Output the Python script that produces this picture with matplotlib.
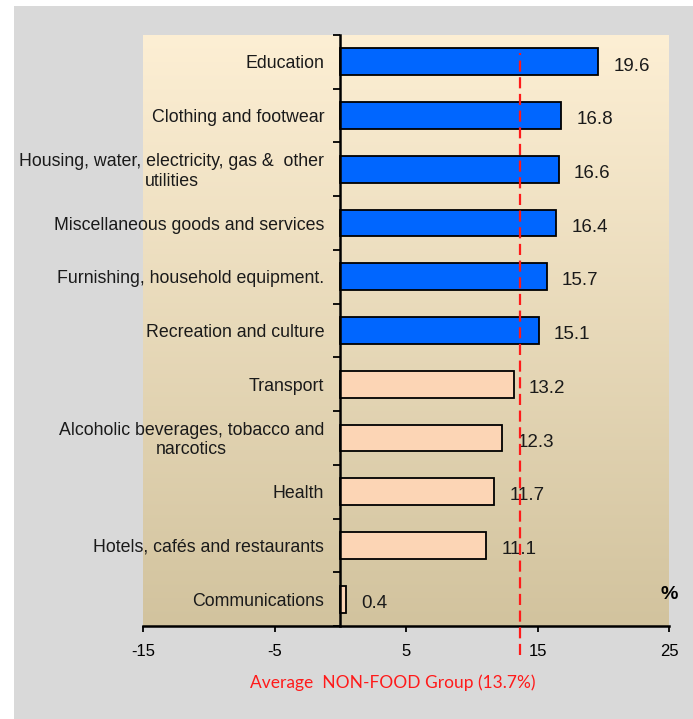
import numpy as np
import matplotlib
matplotlib.use("Agg")
import matplotlib.pyplot as plt
from matplotlib.patches import Rectangle

categories = [
    "Education",
    "Clothing and footwear",
    "Housing, water, electricity, gas &  other\nutilities",
    "Miscellaneous goods and services",
    "Furnishing, household equipment.",
    "Recreation and culture",
    "Transport",
    "Alcoholic beverages, tobacco and\nnarcotics",
    "Health",
    "Hotels, cafés and restaurants",
    "Communications",
]
values = [19.6, 16.8, 16.6, 16.4, 15.7, 15.1, 13.2, 12.3, 11.7, 11.1, 0.4]
average = 13.7
x_ticks = [-15, -5, 5, 15, 25]

plt.rcParams['font.family'] = ['Liberation Sans', 'DejaVu Sans']

W, H = 693, 719
fig = plt.figure(figsize=(W / 100, H / 100), dpi=100, facecolor='white')
fig.patches.append(Rectangle((14 / W, 0), 1, 1 - 6 / H, transform=fig.transFigure,
                             facecolor='#d9d9d9', edgecolor='none', zorder=-10))

ax = fig.add_axes([143 / W, 1 - 626 / H, (669 - 143) / W, (626 - 35) / H])
ax.set_facecolor('none')

# background gradient, cream at top to tan at bottom
top = np.array([253, 239, 212]) / 255
bot = np.array([210, 195, 158]) / 255
t = np.linspace(0, 1, 256)[:, None]
grad = (top * (1 - t) + bot * t)[:, None, :]
ax.imshow(grad, extent=[0, 1, 0, 1], transform=ax.transAxes, aspect='auto', zorder=0)

y = np.arange(len(categories))
colors = ['#0066ff' if v > average else '#fcd5b5' for v in values]
ax.barh(y, values, height=0.5, color=colors, edgecolor='black', linewidth=1.3, zorder=2)

for yi, v, lab in zip(y, values, categories):
    ax.annotate(f"{v}", xy=(v, yi), xytext=(11, -3), textcoords='offset points',
                ha='left', va='center', fontsize=13.5, color='#1a1a1a', zorder=3)
    ax.annotate(lab, xy=(0, yi), xytext=(-11.5, -1.5), textcoords='offset points',
                ha='right', va='center', multialignment='center', fontsize=12.8,
                linespacing=1.2, color='#1a1a1a', zorder=3)

ax.axvline(average, ymin=-0.049, ymax=0.97, color='#ff1a1a', linestyle=(0, (5, 2.5)),
           linewidth=1.6, clip_on=False, zorder=4)

ax.set_xlim(-15, 25)
ax.set_ylim(len(categories) - 0.5, -0.5)
ax.set_xticks(x_ticks)
ax.set_xticklabels([str(v) for v in x_ticks], fontsize=12)
ax.set_yticks(np.arange(-0.5, len(categories)))
ax.set_yticklabels([])

ax.spines['top'].set_visible(False)
ax.spines['right'].set_visible(False)
ax.spines['left'].set_position(('data', 0))
ax.spines['left'].set_linewidth(1.8)
ax.spines['bottom'].set_linewidth(1.8)
ax.tick_params(axis='x', direction='out', length=4, width=1.3, pad=9)
ax.tick_params(axis='y', direction='out', length=5, width=1.3)

ax.text(1.016, 0.053, "%", transform=ax.transAxes, ha='right', va='center',
        fontsize=14, fontweight='bold')

fig.text(393 / W, 1 - 683 / H, "Average  NON-FOOD Group (13.7%)", ha='center', va='center',
         fontsize=12.5, color='#ff1a1a', family=['Lato', 'DejaVu Sans'])

fig.savefig("out.png", dpi=100, facecolor=fig.get_facecolor())
